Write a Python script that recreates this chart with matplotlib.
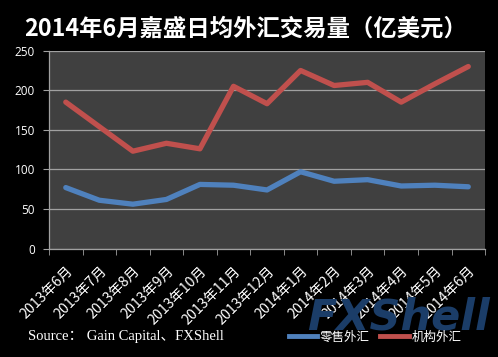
import matplotlib
matplotlib.use("Agg")
import matplotlib.pyplot as plt
from matplotlib.lines import Line2D

plt.rcParams['font.family'] = ['Noto Sans CJK SC', 'DejaVu Sans']

categories = ["2013年6月", "2013年7月", "2013年8月", "2013年9月", "2013年10月", "2013年11月",
              "2013年12月", "2014年1月", "2014年2月", "2014年3月", "2014年4月", "2014年5月", "2014年6月"]
retail = [77, 61, 56, 62, 81, 80, 74, 97, 85, 87, 79, 80, 78]
institutional = [185, 154, 123, 133, 126, 205, 183, 225, 206, 210, 185, 208, 230]
yticks = [0, 50, 100, 150, 200, 250]

title = "2014年6月嘉盛日均外汇交易量（亿美元）"
source = "Source： Gain Capital、FXShell"
series_names = ["零售外汇", "机构外汇"]

blue = "#4F81BD"
red = "#C0504D"

fig = plt.figure(figsize=(4.98, 3.57), dpi=100, facecolor="black")

# watermark-like logo text
fig.text(0.80, 0.11, "FXShell", color="#1b3d68", fontsize=31, fontweight="bold",
         style="italic", ha="center", va="center", family=['DejaVu Sans'], zorder=0)

ax = fig.add_axes([0.0984, 0.3039, 0.8756, 0.5541])
ax.set_facecolor("#404040")

x = list(range(len(categories)))
ax.plot(x, retail, color=blue, lw=3.8, solid_capstyle="round", solid_joinstyle="round", zorder=3)
ax.plot(x, institutional, color=red, lw=3.8, solid_capstyle="round", solid_joinstyle="round", zorder=3)

ax.set_xlim(-0.5, len(categories) - 0.5)
ax.set_ylim(0, 250)
ax.set_yticks(yticks)
ax.yaxis.grid(True, color="#a0a0a0", lw=0.9)
ax.set_axisbelow(True)

ax.set_xticks(x)
ax.set_xticklabels(categories, rotation=45, ha="right", rotation_mode="anchor",
                   color="white", fontsize=10.2)
ax.set_xticks([i - 0.5 for i in range(len(categories) + 1)], minor=True)
ax.tick_params(axis="x", which="major", length=0, pad=11)
ax.tick_params(axis="x", which="minor", length=4, color="#a0a0a0", direction="out")
ax.tick_params(axis="y", length=4, color="#a0a0a0", labelcolor="white", labelsize=8.5, pad=6)
for lab in ax.get_yticklabels():
    lab.set_family(['Open Sans', 'DejaVu Sans'])

for s in ["top", "right"]:
    ax.spines[s].set_visible(False)
for s in ["left", "bottom"]:
    ax.spines[s].set_color("#a0a0a0")
    ax.spines[s].set_linewidth(0.9)

fig.text(0.494, 0.921, title, color="white", fontsize=16.8, fontweight="bold",
         ha="center", va="center")

fig.text(0.057, 0.058, source, color="white", fontsize=10.5, ha="left", va="center",
         family=['Liberation Serif', 'Noto Sans CJK SC'])

handles = [Line2D([], [], color=blue, lw=3.5), Line2D([], [], color=red, lw=3.5)]
leg = fig.legend(handles, series_names, loc="center", bbox_to_anchor=(0.753, 0.055),
                 ncol=2, frameon=False, fontsize=9, labelcolor="white",
                 handlelength=2.3, handletextpad=0.2, columnspacing=0.8,
                 borderpad=0, borderaxespad=0)

fig.savefig("out.png", dpi=100, facecolor="black")
